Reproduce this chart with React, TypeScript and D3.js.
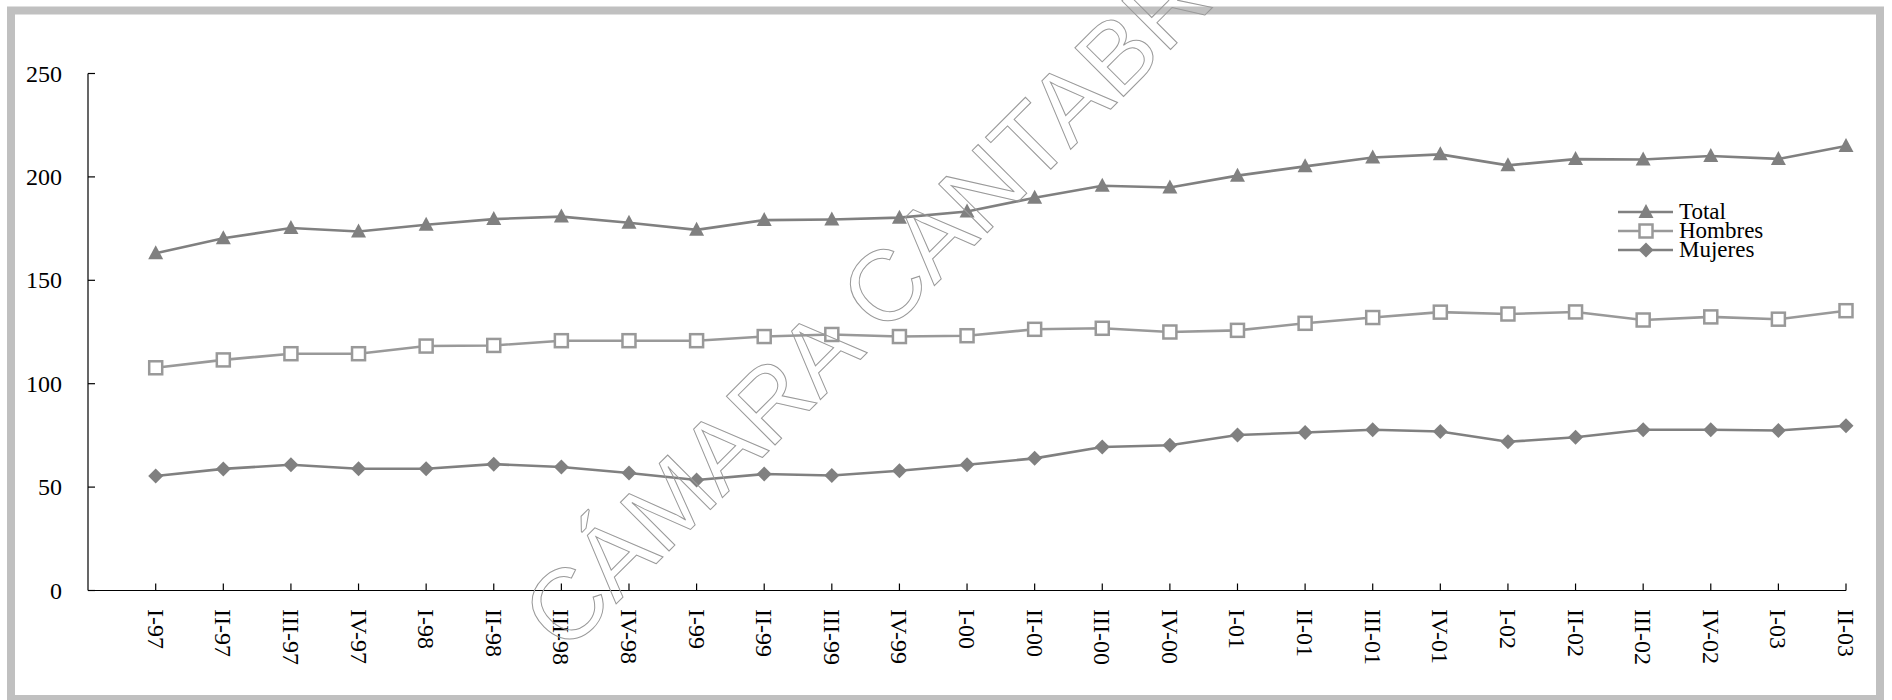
import { useRef, useEffect } from "react";
import * as d3 from "d3";

const categories = [
  "I-97", "II-97", "III-97", "IV-97",
  "I-98", "II-98", "III-98", "IV-98",
  "I-99", "II-99", "III-99", "IV-99",
  "I-00", "II-00", "III-00", "IV-00",
  "I-01", "II-01", "III-01", "IV-01",
  "I-02", "II-02", "III-02", "IV-02",
  "I-03", "II-03",
];

const total = [
  163.1, 170.3, 175.3, 173.6, 176.9, 179.6, 180.8, 177.8, 174.4, 179.1, 179.4, 180.3, 183.3,
  189.9, 195.7, 194.9, 200.6, 205.1, 209.4, 210.9, 205.6, 208.6, 208.4, 210.1, 208.7, 214.9,
];
const hombres = [
  107.7, 111.5, 114.5, 114.5, 118.2, 118.5, 120.8, 120.8, 120.8, 122.8, 123.8, 122.8, 123.2,
  126.3, 126.8, 125.0, 125.8, 129.2, 132.0, 134.6, 133.7, 134.7, 130.8, 132.3, 131.2, 135.3,
];
const mujeres = [
  55.4, 58.8, 60.8, 58.9, 58.9, 61.1, 59.7, 56.8, 53.4, 56.3, 55.6, 57.9, 60.8,
  63.9, 69.4, 70.2, 75.2, 76.4, 77.7, 76.9, 71.9, 74.1, 77.7, 77.7, 77.4, 79.7,
];

const yTicks = [0, 50, 100, 150, 200, 250];
const seriesNames = ["Total", "Hombres", "Mujeres"];

const W = 1892;
const H = 700;
const serif = "'Liberation Serif', 'Times New Roman', serif";

type Marker = "triangle" | "square" | "diamond";

const drawMarker = (
  g: d3.Selection<SVGGElement, unknown, null, undefined>,
  kind: Marker,
  x: number,
  y: number,
  color: string
) => {
  if (kind === "triangle") {
    g.append("path")
      .attr("d", `M${x},${y - 8}L${x + 7.5},${y + 6}L${x - 7.5},${y + 6}Z`)
      .attr("fill", color);
  } else if (kind === "square") {
    g.append("rect")
      .attr("x", x - 6.5)
      .attr("y", y - 6.5)
      .attr("width", 13)
      .attr("height", 13)
      .attr("fill", "#fff")
      .attr("stroke", color)
      .attr("stroke-width", 2.5);
  } else {
    g.append("path")
      .attr("d", `M${x},${y - 7.5}L${x + 7.5},${y}L${x},${y + 7.5}L${x - 7.5},${y}Z`)
      .attr("fill", color);
  }
};

const App = () => {
  const svgRef = useRef<SVGSVGElement | null>(null);

  useEffect(() => {
    if (!svgRef.current) return;
    const svg = d3.select(svgRef.current);
    svg.selectAll("*").remove();

    const axisLeft = 88;
    const x = d3.scalePoint<string>().domain(categories).range([155.7, 1846]);
    const y = d3.scaleLinear().domain([0, 250]).range([590.5, 73.5]);

    // frame
    svg.append("rect")
      .attr("x", 11)
      .attr("y", 10.5)
      .attr("width", 1869)
      .attr("height", 688.5)
      .attr("fill", "none")
      .attr("stroke", "#c0c0c0")
      .attr("stroke-width", 8);

    const axes = svg.append("g").attr("stroke", "#000").attr("stroke-width", 1.2);

    // y axis
    axes.append("line")
      .attr("x1", axisLeft).attr("x2", axisLeft)
      .attr("y1", y(250)).attr("y2", y(0));
    yTicks.forEach((t) => {
      axes.append("line")
        .attr("x1", axisLeft).attr("x2", axisLeft + 7)
        .attr("y1", y(t)).attr("y2", y(t));
      svg.append("text")
        .attr("x", 62)
        .attr("y", y(t))
        .attr("text-anchor", "end")
        .attr("dominant-baseline", "central")
        .attr("font-family", serif)
        .attr("font-size", 24)
        .text(t);
    });

    // x axis
    axes.append("line")
      .attr("x1", axisLeft).attr("x2", x(categories[categories.length - 1])!)
      .attr("y1", y(0)).attr("y2", y(0));
    categories.forEach((c) => {
      const cx = x(c)!;
      axes.append("line")
        .attr("x1", cx).attr("x2", cx)
        .attr("y1", y(0)).attr("y2", y(0) - 7);
      svg.append("text")
        .attr("transform", `translate(${cx},609) rotate(90)`)
        .attr("dominant-baseline", "central")
        .attr("font-family", serif)
        .attr("font-size", 24)
        .text(c);
    });

    const series: { name: string; values: number[]; color: string; marker: Marker }[] = [
      { name: seriesNames[0], values: total, color: "#808080", marker: "triangle" },
      { name: seriesNames[1], values: hombres, color: "#999999", marker: "square" },
      { name: seriesNames[2], values: mujeres, color: "#808080", marker: "diamond" },
    ];

    const line = d3
      .line<number>()
      .x((_, i) => x(categories[i])!)
      .y((d) => y(d));

    series.forEach((s) => {
      const g = svg.append("g");
      g.append("path")
        .attr("d", line(s.values))
        .attr("fill", "none")
        .attr("stroke", s.color)
        .attr("stroke-width", 2.6);
      s.values.forEach((v, i) => drawMarker(g, s.marker, x(categories[i])!, y(v), s.color));
    });

    // legend
    const legend = svg.append("g");
    series.forEach((s, i) => {
      const ry = 212 + i * 19;
      legend.append("line")
        .attr("x1", 1618).attr("x2", 1673)
        .attr("y1", ry).attr("y2", ry)
        .attr("stroke", s.color)
        .attr("stroke-width", 2.6);
      drawMarker(legend, s.marker, 1646, ry, s.color);
      legend.append("text")
        .attr("x", 1679)
        .attr("y", ry + 6.5)
        .attr("font-family", serif)
        .attr("font-size", 23)
        .text(s.name);
    });

    // watermark
    svg.append("text")
      .attr("transform", "translate(565,655) rotate(-45)")
      .attr("font-family", "'Liberation Sans', Arial, sans-serif")
      .attr("font-size", 100)
      .attr("fill", "none")
      .attr("stroke", "#999")
      .attr("stroke-width", 1)
      .text("CÁMARA CANTABRIA");
  }, []);

  return (
    <svg
      ref={svgRef}
      width={W}
      height={H}
      style={{ position: "absolute", left: 0, top: 0, background: "#fff" }}
    ></svg>
  );
};

export default App;
